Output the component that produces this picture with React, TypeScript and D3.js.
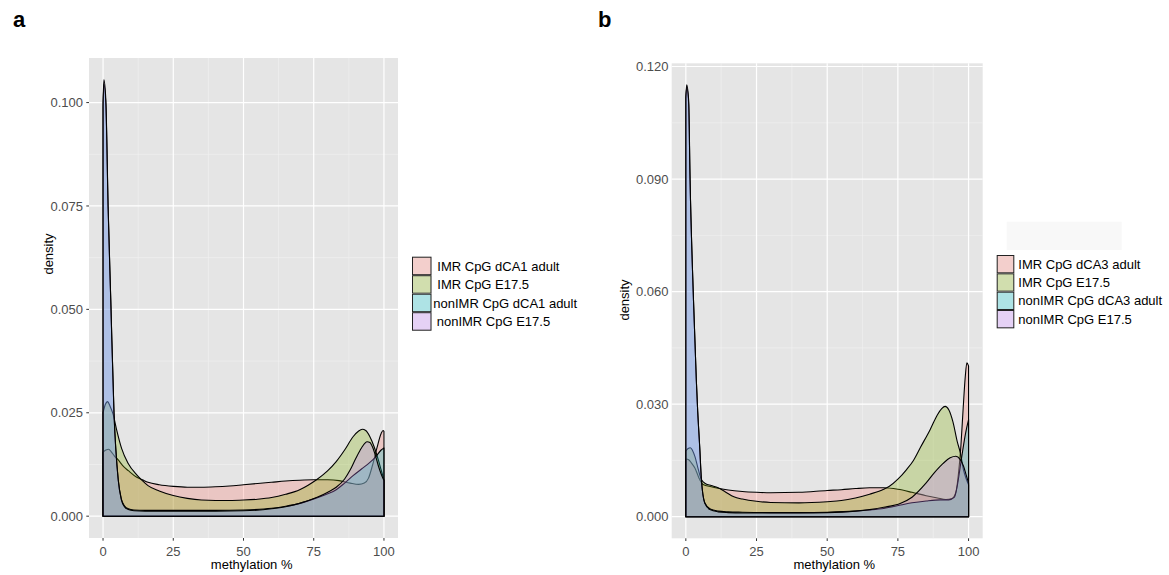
import React from "react";
import * as d3 from "d3";

type Pt = [number, number];

const labelsA = ["IMR CpG dCA1 adult", "IMR CpG E17.5", "nonIMR CpG dCA1 adult", "nonIMR CpG E17.5"];
const labelsB = ["IMR CpG dCA3 adult", "IMR CpG E17.5", "nonIMR CpG dCA3 adult", "nonIMR CpG E17.5"];
const fillColors = ["#F8766D", "#7CAE00", "#00BFC4", "#C77CFF"];
const xTicks = [0, 25, 50, 75, 100];
const yTicksA = [0, 0.025, 0.05, 0.075, 0.1];
const yTicksB = [0, 0.03, 0.06, 0.09, 0.12];
const yTickTextA = ["0.000", "0.025", "0.050", "0.075", "0.100"];
const yTickTextB = ["0.000", "0.030", "0.060", "0.090", "0.120"];

// Panel a: methylation % vs density
const aIMRAdult: Pt[] = [[0,0.0155],[1,0.0160],[2,0.0162],[3,0.0155],[4,0.0146],[5.4,0.0136],[7,0.0122],[9,0.0110],[12,0.0094],[14,0.0088],[16,0.0082],[20,0.0076],[25,0.0072],[30,0.0070],[35,0.0070],[40,0.0071],[45,0.0073],[50,0.0076],[55,0.0079],[60,0.0082],[65,0.0085],[70,0.0087],[75,0.0088],[80,0.0088],[84,0.0086],[88,0.0080],[91,0.0077],[93,0.0080],[94.5,0.0092],[96,0.0125],[97.5,0.0165],[99,0.0200],[99.7,0.0207],[100,0.0205]];
const aIMRE175: Pt[] = [[0,0.0250],[0.8,0.0270],[1.6,0.0277],[2.5,0.0266],[3.6,0.0246],[4.8,0.0210],[6.6,0.0164],[8.9,0.0128],[12,0.0100],[14,0.0086],[16,0.0074],[20,0.0061],[25,0.0050],[30,0.0043],[35,0.0039],[40,0.0038],[45,0.0038],[50,0.0039],[55,0.0041],[60,0.0045],[65,0.0053],[70,0.0064],[73,0.0075],[76,0.0088],[80,0.0110],[83,0.0132],[86,0.0160],[89,0.0192],[91,0.0206],[92.3,0.0210],[93.5,0.0207],[95,0.0192],[96.5,0.0168],[98,0.0136],[99,0.0112],[100,0.0088]];
const aNonIMRAdult: Pt[] = [[0,0.0990],[0.3,0.1045],[1,0.0995],[1.8,0.0745],[2.75,0.0520],[3.9,0.0248],[5.4,0.0088],[6.5,0.0042],[7.75,0.0024],[9,0.0018],[11,0.0015],[15,0.0014],[20,0.0014],[30,0.0014],[40,0.0014],[50,0.0015],[60,0.0019],[65,0.0024],[70,0.0031],[76,0.0044],[80,0.0054],[83,0.0064],[86,0.0080],[89,0.0098],[92,0.0114],[95,0.0130],[97,0.0143],[99,0.0160],[100,0.0165]];
const aNonIMRE175: Pt[] = [[0,0.1000],[0.3,0.1055],[1,0.1005],[1.8,0.0750],[2.75,0.0523],[3.9,0.0250],[5.4,0.0088],[6.5,0.0040],[7.75,0.0022],[9,0.0016],[11,0.0013],[15,0.0012],[20,0.0012],[30,0.0012],[40,0.0012],[50,0.0013],[60,0.0018],[65,0.0023],[70,0.0031],[76,0.0045],[80,0.0058],[83,0.0070],[86,0.0090],[88,0.0112],[90,0.0140],[92,0.0165],[94,0.0180],[95,0.0178],[96,0.0166],[97,0.0146],[98,0.0122],[99,0.0102],[100,0.0086]];

// Panel b
const bIMRAdult: Pt[] = [[0,0.0154],[1,0.0152],[2,0.0143],[3.2,0.0130],[4.9,0.0099],[6.1,0.0086],[9,0.0080],[11.4,0.0076],[15,0.0071],[20,0.0067],[25,0.0065],[30,0.0064],[40,0.0065],[50,0.0070],[55,0.0072],[60,0.0075],[65,0.0077],[70,0.0077],[75,0.0073],[80,0.0065],[85,0.0056],[89,0.0050],[92,0.0046],[94,0.0048],[95.5,0.0065],[96.5,0.0120],[97.3,0.0190],[98.1,0.0290],[98.8,0.0370],[99.4,0.0410],[100,0.0402]];
const bIMRE175: Pt[] = [[0,0.0175],[0.8,0.0182],[1.6,0.0184],[2.4,0.0176],[3.2,0.0161],[4.4,0.0126],[5.5,0.0099],[7,0.0088],[9,0.0083],[11.4,0.0077],[14,0.0066],[17,0.0053],[20,0.0047],[25,0.0041],[30,0.0038],[40,0.0037],[50,0.0040],[55,0.0043],[60,0.0050],[65,0.0060],[70,0.0073],[72,0.0081],[75,0.0100],[78,0.0125],[80.5,0.0150],[83,0.0185],[86.4,0.0232],[89,0.0272],[90.5,0.0288],[91.7,0.0294],[93,0.0285],[94.5,0.0252],[96,0.0200],[97.1,0.0170],[98.2,0.0125],[99.2,0.0100],[100,0.0085]];
const bNonIMRAdult: Pt[] = [[0,0.1115],[0.3,0.1145],[1,0.1100],[1.5,0.0895],[2.7,0.0578],[3.7,0.0366],[4.2,0.0280],[4.9,0.0185],[5.5,0.0099],[6.7,0.0037],[8.5,0.0021],[11.4,0.0015],[15,0.0013],[20,0.0012],[30,0.0011],[40,0.0011],[50,0.0012],[60,0.0015],[65,0.0018],[70,0.0022],[76,0.0031],[80,0.0037],[85,0.0042],[90,0.0045],[93,0.0045],[95,0.0052],[96,0.0082],[97,0.0130],[98,0.0180],[99,0.0225],[100,0.0259]];
const bNonIMRE175: Pt[] = [[0,0.1120],[0.3,0.1151],[1,0.1110],[1.5,0.0898],[2.7,0.0579],[3.7,0.0366],[4.2,0.0280],[4.9,0.0188],[5.5,0.0099],[6.7,0.0036],[8.5,0.0019],[11.4,0.0013],[15,0.0011],[20,0.0010],[30,0.0010],[40,0.0010],[50,0.0011],[60,0.0015],[65,0.0019],[70,0.0025],[76,0.0036],[80,0.0052],[85,0.0090],[88,0.0118],[91,0.0142],[93.5,0.0157],[95.5,0.0161],[97,0.0153],[98.2,0.0135],[99.2,0.0110],[100,0.0090]];

const seriesA = [aIMRAdult, aIMRE175, aNonIMRAdult, aNonIMRE175];
const seriesB = [bIMRAdult, bIMRE175, bNonIMRAdult, bNonIMRE175];

const FONT = "'Liberation Sans', Arial, Helvetica, sans-serif";
const ALPHA = 0.28;

interface PanelProps {
  id: string;
  series: Pt[][];
  yTicks: number[];
  yTickText: string[];
  left: number; right: number; top: number; bottom: number;
  yLabelRight: number;
  showYTicks: boolean;
  yTitleX: number; yTitleY: number;
  xTitleX: number;
}

function Panel(p: PanelProps) {
  const x = d3.scaleLinear().domain([-5, 105]).range([p.left, p.right]);
  const maxY = d3.max(p.series.flat(), (d) => d[1]) as number;
  const pad = maxY * 0.05;
  const y = d3.scaleLinear().domain([-pad, maxY + pad]).range([p.bottom, p.top]);
  const area = d3
    .area<Pt>()
    .x((d) => x(d[0]))
    .y0(y(0))
    .y1((d) => y(d[1]))
    .curve(d3.curveMonotoneX);
  const [d0, d1] = y.domain();
  const yMinor: number[] = [];
  for (let i = 0; i < p.yTicks.length; i++) {
    const step = p.yTicks[1] - p.yTicks[0];
    const m = p.yTicks[i] + step / 2;
    if (m > d0 && m < d1) yMinor.push(m);
  }
  const xMinor = xTicks.slice(0, -1).map((t, i) => (t + xTicks[i + 1]) / 2);
  const w = p.right - p.left;
  const h = p.bottom - p.top;
  return (
    <g>
      <defs>
        <clipPath id={`clip-${p.id}`}>
          <rect x={p.left} y={p.top} width={w} height={h} />
        </clipPath>
      </defs>
      <rect x={p.left} y={p.top} width={w} height={h} fill="#E5E5E5" />
      {yMinor.map((v) => (
        <line key={`ym${v}`} x1={p.left} x2={p.right} y1={y(v)} y2={y(v)} stroke="#F2F2F2" strokeWidth={0.6} />
      ))}
      {xMinor.map((v) => (
        <line key={`xm${v}`} x1={x(v)} x2={x(v)} y1={p.top} y2={p.bottom} stroke="#F2F2F2" strokeWidth={0.6} />
      ))}
      {p.yTicks.map((v) => (
        <line key={`yM${v}`} x1={p.left} x2={p.right} y1={y(v)} y2={y(v)} stroke="#FFFFFF" strokeWidth={1.2} />
      ))}
      {xTicks.map((v) => (
        <line key={`xM${v}`} x1={x(v)} x2={x(v)} y1={p.top} y2={p.bottom} stroke="#FFFFFF" strokeWidth={1.2} />
      ))}
      <g clipPath={`url(#clip-${p.id})`}>
        {p.series.map((s, i) => (
          <path
            key={i}
            d={area(s) as string}
            fill={fillColors[i]}
            fillOpacity={ALPHA}
            stroke="#000"
            strokeWidth={1.1}
            strokeLinejoin="round"
          />
        ))}
      </g>
      {p.showYTicks &&
        p.yTicks.map((v) => (
          <line key={`yt${v}`} x1={p.left - 2.7} x2={p.left} y1={y(v)} y2={y(v)} stroke="#333" strokeWidth={1} />
        ))}
      {xTicks.map((v) => (
        <line key={`xt${v}`} x1={x(v)} x2={x(v)} y1={p.bottom} y2={p.bottom + 2.7} stroke="#333" strokeWidth={1} />
      ))}
      {p.yTicks.map((v, i) => (
        <text key={`yl${v}`} x={p.yLabelRight} y={y(v) + 4.6} textAnchor="end" fontSize={13} fill="#4D4D4D" fontFamily={FONT}>
          {p.yTickText[i]}
        </text>
      ))}
      {xTicks.map((v) => (
        <text key={`xl${v}`} x={x(v)} y={556} textAnchor="middle" fontSize={13} fill="#4D4D4D" fontFamily={FONT}>
          {v}
        </text>
      ))}
      <text x={p.xTitleX} y={569} textAnchor="middle" fontSize={13} fill="#000" fontFamily={FONT}>
        methylation %
      </text>
      <text
        transform={`translate(${p.yTitleX},${p.yTitleY}) rotate(-90)`}
        textAnchor="middle"
        fontSize={13}
        fill="#000"
        fontFamily={FONT}
      >
        density
      </text>
    </g>
  );
}

interface LegendProps {
  labels: string[];
  keyX: number; keyY: number; keyW: number; keyH: number;
  textX: number[];
}

function Legend(p: LegendProps) {
  return (
    <g>
      {p.labels.map((lab, i) => (
        <g key={lab + i}>
          <rect x={p.keyX} y={p.keyY + i * p.keyH} width={p.keyW} height={p.keyH} fill="#F2F2F2" />
          <rect
            x={p.keyX + 0.5}
            y={p.keyY + i * p.keyH + 0.5}
            width={p.keyW - 1}
            height={p.keyH - 1}
            fill={fillColors[i]}
            fillOpacity={ALPHA}
            stroke="#222"
            strokeWidth={1}
          />
          <text x={p.textX[i]} y={p.keyY + i * p.keyH + p.keyH / 2 + 4.6} fontSize={13} fill="#000" fontFamily={FONT}>
            {lab}
          </text>
        </g>
      ))}
    </g>
  );
}

export default function App() {
  return (
    <svg
      width={1169}
      height={575}
      style={{ position: "absolute", left: 0, top: 0, background: "#fff" }}
    >
      <rect x={0} y={0} width={1169} height={575} fill="#fff" />
      <text x={13} y={27} fontSize={22} fontWeight="bold" fontFamily={FONT} fill="#000">a</text>
      <text x={598} y={27} fontSize={22} fontWeight="bold" fontFamily={FONT} fill="#000">b</text>
      <Panel
        id="a"
        series={seriesA}
        yTicks={yTicksA}
        yTickText={yTickTextA}
        left={89}
        right={398}
        top={58}
        bottom={538}
        yLabelRight={83}
        showYTicks={true}
        yTitleX={53}
        yTitleY={254}
        xTitleX={251.7}
      />
      <Panel
        id="b"
        series={seriesB}
        yTicks={yTicksB}
        yTickText={yTickTextB}
        left={671.7}
        right={982.7}
        top={63.3}
        bottom={538.3}
        yLabelRight={668.5}
        showYTicks={false}
        yTitleX={629}
        yTitleY={300}
        xTitleX={834.3}
      />
      <Legend labels={labelsA} keyX={412} keyY={256.7} keyW={19.5} keyH={18.5} textX={[437.3, 437.3, 433.3, 436.7]} />
      <rect x={1006.7} y={221.7} width={115} height={28.3} fill="#F8F8F8" />
      <Legend labels={labelsB} keyX={996.7} keyY={255} keyW={17.6} keyH={18.33} textX={[1018.3, 1018.3, 1018.3, 1018.3]} />
    </svg>
  );
}
